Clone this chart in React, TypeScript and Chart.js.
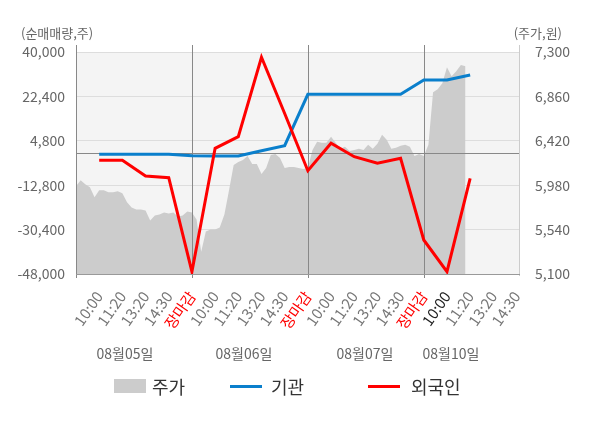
import React, { useEffect, useRef } from "react";
import { Chart, registerables } from "chart.js";

Chart.register(...registerables);

// x axis: one slot per label, slot 0 is the open
const X_LABELS = [
  "10:00", "11:20", "13:20", "14:30", "장마감",
  "10:00", "11:20", "13:20", "14:30", "장마감",
  "10:00", "11:20", "13:20", "14:30", "장마감",
  "10:00", "11:20", "13:20", "14:30",
];
const CLOSE_LABEL = "장마감";
const CURRENT_SLOT = 16;
const DAYS = ["08월05일", "08월06일", "08월07일", "08월10일"];

// net buying (shares), one value per slot starting at slot 1
const INSTITUTION = [
  -550, -550, -550, -550, -1100, -1230, -1230, 840, 2860,
  23230, 23230, 23230, 23230, 23230, 28900, 28900, 30880,
];
const FOREIGN = [
  -2930, -2930, -9150, -9830, -47090, 1830, 6430, 37900, 15620,
  -7050, 3810, -1500, -4120, -2140, -34520, -47090, -10070,
];

// share price (won), sampled every PRICE_STEP slots from slot 0
const PRICE_STEP = 0.2;
const PRICE = [
  5970, 6030, 5990, 5960, 5860, 5930, 5930, 5910, 5910, 5920,
  5900, 5810, 5760, 5740, 5740, 5730, 5630, 5680, 5690, 5710,
  5700, 5710, 5670, 5680, 5720, 5710, 5640, 5320, 5520, 5540,
  5540, 5560, 5690, 5930, 6180, 6210, 6230, 6270, 6190, 6190,
  6090, 6150, 6280, 6290, 6250, 6150, 6160, 6160, 6150, 6140,
  6150, 6330, 6410, 6400, 6400, 6460, 6400, 6340, 6360, 6320,
  6330, 6340, 6330, 6380, 6340, 6390, 6480, 6430, 6340, 6350,
  6370, 6380, 6360, 6270, 6290, 6270, 6380, 6900, 6930, 6990,
  7150, 7060, 7110, 7170, 7160,
];

const LEFT_MIN = -48000;
const LEFT_MAX = 40000;
const LEFT_STEP = 17600;
const RIGHT_MIN = 5100;
const RIGHT_MAX = 7300;
const RIGHT_STEP = 440;

const FONT = "'Noto Sans CJK KR', 'Noto Sans', sans-serif";
const BLUE = "#0a7fcc";
const RED = "#ff0000";
const GRAY = "#666";

const closeSlots = X_LABELS.map((l, i) => (l === CLOSE_LABEL ? i + 1 : -1)).filter((v) => v > 0);

const decor = {
  id: "decor",
  beforeDraw(chart: any) {
    const { ctx, chartArea: a } = chart;
    ctx.save();
    ctx.fillStyle = "#f4f4f4";
    ctx.fillRect(a.left, a.top, a.right - a.left, a.bottom - a.top);
    ctx.restore();
  },
  afterDatasetDraw(chart: any, args: any) {
    if (args.index !== 0) return;
    const { ctx, chartArea: a, scales } = chart;
    const seg = (x1: number, y1: number, x2: number, y2: number, c: string) => {
      ctx.strokeStyle = c;
      ctx.beginPath();
      ctx.moveTo(x1, y1);
      ctx.lineTo(x2, y2);
      ctx.stroke();
    };
    ctx.save();
    ctx.lineWidth = 1;
    const y0 = Math.round(scales.y.getPixelForValue(0)) + 0.5;
    seg(a.left, y0, a.right, y0, "#888");
    closeSlots.forEach((v) => {
      const x = Math.round(scales.x.getPixelForValue(v)) + 0.5;
      seg(x, a.top - 7, x, a.bottom + 4, "#888");
    });
    const l = Math.round(a.left) + 0.5;
    const r = Math.round(a.right) - 0.5;
    const b = Math.round(a.bottom) + 0.5;
    seg(l, a.top - 7, l, a.bottom + 4, "#888");
    seg(r, a.top - 7, r, a.bottom + 2, "#ccc");
    seg(a.left, b, a.right, b, "#999");
    ctx.restore();
  },
};

const App: React.FC = () => {
  const canvasRef = useRef<HTMLCanvasElement | null>(null);

  useEffect(() => {
    if (!canvasRef.current) return;
    const chart = new Chart(canvasRef.current, {
      type: "line",
      data: {
        datasets: [
          {
            label: "주가",
            data: PRICE.map((p, i) => ({ x: i * PRICE_STEP, y: p })),
            yAxisID: "y1",
            fill: "start",
            backgroundColor: "#cccccc",
            borderWidth: 0,
            pointRadius: 0,
            order: 3,
          },
          {
            label: "기관",
            data: INSTITUTION.map((v, i) => ({ x: i + 1, y: v })),
            yAxisID: "y",
            borderColor: BLUE,
            borderWidth: 3,
            pointRadius: 0,
            fill: false,
            order: 2,
          },
          {
            label: "외국인",
            data: FOREIGN.map((v, i) => ({ x: i + 1, y: v })),
            yAxisID: "y",
            borderColor: RED,
            borderWidth: 3,
            pointRadius: 0,
            fill: false,
            order: 1,
          },
        ],
      },
      options: {
        responsive: false,
        animation: false,
        layout: { padding: { top: 52, left: 0, right: 0, bottom: 0 } },
        plugins: { legend: { display: false }, tooltip: { enabled: false } },
        scales: {
          x: {
            type: "linear",
            min: 0,
            max: 19.15,
            grid: { display: false },
            border: { display: false },
            afterBuildTicks: (s: any) => {
              s.ticks = X_LABELS.map((_, i) => ({ value: i + 1 }));
            },
            afterFit: (s: any) => {
              s.height = 154;
            },
            ticks: {
              autoSkip: false,
              maxRotation: 55,
              minRotation: 55,
              padding: 6,
              font: { family: FONT, size: 15 },
              color: (c: any) =>
                X_LABELS[c.tick.value - 1] === CLOSE_LABEL ? RED : c.tick.value === CURRENT_SLOT ? "#222" : "#777",
              callback: (v: any) => X_LABELS[v - 1] ?? "",
            },
          },
          y: {
            position: "left",
            min: LEFT_MIN,
            max: LEFT_MAX,
            grid: { color: "#dddddd", drawTicks: false },
            border: { display: false },
            afterFit: (s: any) => {
              s.width = 76;
            },
            ticks: {
              stepSize: LEFT_STEP,
              padding: 11,
              font: { family: FONT, size: 14 },
              color: GRAY,
              callback: (v: any) => Number(v).toLocaleString("en-US"),
            },
          },
          y1: {
            position: "right",
            min: RIGHT_MIN,
            max: RIGHT_MAX,
            grid: { display: false },
            border: { display: false },
            afterFit: (s: any) => {
              s.width = 80;
            },
            ticks: {
              stepSize: RIGHT_STEP,
              padding: 7,
              font: { family: FONT, size: 14 },
              color: GRAY,
              callback: (v: any) => Number(v).toLocaleString("en-US"),
            },
          },
        },
      },
      plugins: [decor],
    });
    return () => chart.destroy();
  }, []);

  const dayX = [125, 244, 365, 451];
  const text = (extra: React.CSSProperties): React.CSSProperties => ({
    position: "absolute",
    fontFamily: FONT,
    whiteSpace: "nowrap",
    ...extra,
  });

  return (
    <div style={{ position: "absolute", left: 0, top: 0, width: 600, height: 428, background: "#fff" }}>
      <canvas ref={canvasRef} width={600} height={428} style={{ position: "absolute", left: 0, top: 0 }} />
      <span style={text({ left: 21, top: 24, fontSize: 13, lineHeight: "18px", color: GRAY })}>(순매매량,주)</span>
      <span style={text({ right: 38, top: 24, fontSize: 13, lineHeight: "18px", color: GRAY })}>(주가,원)</span>
      {DAYS.map((d, i) => (
        <span
          key={d}
          style={text({ left: dayX[i], top: 344, transform: "translateX(-50%)", fontSize: 14, lineHeight: "18px", color: GRAY })}
        >
          {d}
        </span>
      ))}
      <div style={{ position: "absolute", left: 114, top: 379, width: 32, height: 14, background: "#cccccc" }} />
      <span style={text({ left: 152, top: 374, fontSize: 18, lineHeight: "24px", color: "#333" })}>주가</span>
      <div style={{ position: "absolute", left: 230, top: 385, width: 32, height: 3, background: BLUE }} />
      <span style={text({ left: 271, top: 374, fontSize: 18, lineHeight: "24px", color: "#333" })}>기관</span>
      <div style={{ position: "absolute", left: 368, top: 385, width: 32, height: 3, background: RED }} />
      <span style={text({ left: 411, top: 374, fontSize: 18, lineHeight: "24px", color: "#333" })}>외국인</span>
    </div>
  );
};

export default App;
